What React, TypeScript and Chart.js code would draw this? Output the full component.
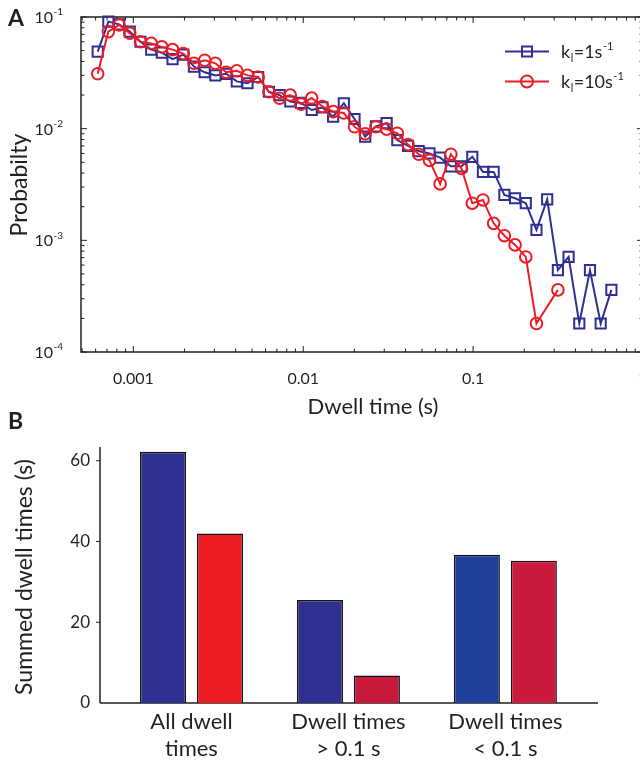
import React, { useEffect, useRef } from "react";
import { Chart, registerables } from "chart.js";
Chart.register(...registerables);

// ---------- Panel A data ----------
const dwellTimesK1 = [
  0.000617, 0.000713, 0.000824, 0.000953, 0.001102, 0.001274, 0.001472, 0.001702, 0.001968, 0.002275,
  0.00263, 0.00304, 0.003516, 0.004064, 0.004699, 0.00543, 0.00628, 0.00726, 0.00839, 0.0097,
  0.01122, 0.01297, 0.015, 0.01734, 0.02004, 0.02317, 0.02679, 0.03097, 0.0358, 0.0414,
  0.04786, 0.05534, 0.06397, 0.07396, 0.0855, 0.0989, 0.1143, 0.1321, 0.1528, 0.1766,
  0.2042, 0.236, 0.2729, 0.3155, 0.3648, 0.4217, 0.4875, 0.5636, 0.6516,
];
const probK1 = [
  0.049, 0.091, 0.086, 0.074, 0.06, 0.051, 0.048, 0.042, 0.046, 0.036,
  0.032, 0.03, 0.031, 0.0265, 0.0255, 0.029, 0.0214, 0.02, 0.0175, 0.017,
  0.0147, 0.0155, 0.0128, 0.0169, 0.0122, 0.0085, 0.0105, 0.0112, 0.0079, 0.007,
  0.0063, 0.006, 0.0055, 0.0046, 0.0046, 0.0056, 0.0041, 0.0041, 0.00255, 0.00238,
  0.00215, 0.00124, 0.00233, 0.00054, 0.00071, 0.00018, 0.00054, 0.00018, 0.00036,
];
const dwellTimesK10 = [
  0.000617, 0.000713, 0.000824, 0.000953, 0.001102, 0.001274, 0.001472, 0.001702, 0.001968, 0.002275,
  0.00263, 0.00304, 0.003516, 0.004064, 0.004699, 0.00543, 0.00628, 0.00726, 0.00839, 0.0097,
  0.01122, 0.01297, 0.015, 0.01734, 0.02004, 0.02317, 0.02679, 0.03097, 0.0358, 0.0414,
  0.04786, 0.05534, 0.06397, 0.07396, 0.0855, 0.0989, 0.1143, 0.1321, 0.1528, 0.1766,
  0.2042, 0.236, 0.3155,
];
const probK10 = [
  0.031, 0.074, 0.085, 0.0715, 0.06, 0.058, 0.054, 0.051, 0.047, 0.0385,
  0.041, 0.0385, 0.032, 0.033, 0.03, 0.029, 0.0214, 0.0187, 0.02, 0.0166,
  0.0188, 0.0158, 0.0142, 0.0138, 0.0104, 0.009, 0.0104, 0.0099, 0.0091, 0.0072,
  0.0059, 0.0052, 0.0032, 0.0059, 0.0044, 0.00215, 0.0023, 0.00142, 0.0011, 0.00091,
  0.00071, 0.00018, 0.00036,
];
const xTickValues = [0.001, 0.01, 0.1, 1];
const xTickLabels = ["0.001", "0.01", "0.1", "1"];
const yTickValues = [0.0001, 0.001, 0.01, 0.1];
const yTickExponents = ["-4", "-3", "-2", "-1"];
const legendRates = ["1", "10"];

// ---------- Panel B data ----------
const barCategories = [
  ["All dwell", "times"],
  ["Dwell times", "> 0.1 s"],
  ["Dwell times", "< 0.1 s"],
];
const barK1 = [62.2, 25.5, 36.7];
const barK10 = [42.0, 6.8, 35.2];
const barYTicks = [0, 20, 40, 60];

const FONT = "Lato, 'Open Sans', sans-serif";
const INK = "#231f20";
const BLUE = "#2e3192";
const RED = "#ed1c24";
const BLUE_FILLS = ["#2e3190", "#2e3190", "#21409a"];
const RED_FILLS = ["#ed1c24", "#c9193c", "#cc1a3e"];

function seg(ctx: CanvasRenderingContext2D, x1: number, y1: number, x2: number, y2: number) {
  ctx.beginPath();
  ctx.moveTo(x1, y1);
  ctx.lineTo(x2, y2);
  ctx.stroke();
}

const panelAPlugin = {
  id: "panelA",
  beforeDatasetsDraw(chart: any) {
    const { ctx, chartArea: a, scales } = chart;
    const xs = scales.x;
    const ys = scales.y;
    ctx.save();
    ctx.strokeStyle = INK;
    ctx.lineWidth = 1.5;
    ctx.strokeRect(a.left, a.top, a.right - a.left, a.bottom - a.top);
    ctx.lineWidth = 1;
    for (let d = -4; d <= 0; d++) {
      for (let m = 1; m <= 9; m++) {
        const v = m * Math.pow(10, d);
        if (v < xs.min * 0.999 || v > xs.max * 1.001) continue;
        const px = xs.getPixelForValue(v);
        const len = m === 1 ? 6 : 3.5;
        seg(ctx, px, a.bottom, px, a.bottom - len);
        seg(ctx, px, a.top, px, a.top + len);
      }
    }
    for (let d = -4; d <= -1; d++) {
      for (let m = 1; m <= 9; m++) {
        const v = m * Math.pow(10, d);
        if (v < ys.min * 0.999 || v > ys.max * 1.001) continue;
        const py = ys.getPixelForValue(v);
        const len = m === 1 ? 6 : 3.5;
        seg(ctx, a.left, py, a.left + len, py);
        seg(ctx, a.right, py, a.right - len, py);
      }
    }
    ctx.fillStyle = INK;
    ctx.textBaseline = "middle";
    ctx.textAlign = "center";
    ctx.font = `16px ${FONT}`;
    xTickValues.forEach((v, i) => {
      ctx.fillText(xTickLabels[i], xs.getPixelForValue(v), 379);
    });
    yTickValues.forEach((v, i) => {
      const py = ys.getPixelForValue(v);
      ctx.font = `16px ${FONT}`;
      ctx.textAlign = "right";
      ctx.fillText("10", 53, py + 1);
      ctx.font = `10px ${FONT}`;
      ctx.textAlign = "left";
      ctx.fillText(yTickExponents[i], 53.5, py - 5);
    });
    ctx.font = `22px ${FONT}`;
    ctx.textAlign = "center";
    ctx.fillText("Dwell time (s)", 373, 407);
    ctx.save();
    ctx.translate(20, 185);
    ctx.rotate(-Math.PI / 2);
    ctx.font = `23px ${FONT}`;
    ctx.fillText("Probabilty", 0, 0);
    ctx.restore();
    ctx.font = `bold 23px ${FONT}`;
    ctx.textAlign = "left";
    ctx.fillText("A", 8, 19);
    ctx.restore();
  },
  afterDraw(chart: any) {
    const { ctx } = chart;
    ctx.save();
    const entries = [
      { rate: legendRates[0], color: BLUE, style: "rect", y: 51.5 },
      { rate: legendRates[1], color: RED, style: "circle", y: 81.5 },
    ];
    entries.forEach((e) => {
      ctx.strokeStyle = e.color;
      ctx.lineWidth = 2;
      seg(ctx, 505, e.y, 549, e.y);
      ctx.beginPath();
      if (e.style === "rect") ctx.rect(522, e.y - 5, 10, 10);
      else ctx.arc(527, e.y, 6, 0, Math.PI * 2);
      ctx.stroke();
      ctx.fillStyle = INK;
      ctx.textAlign = "left";
      ctx.textBaseline = "alphabetic";
      let x = 561;
      const base = e.y + 6.5;
      ctx.font = `18px ${FONT}`;
      ctx.fillText("k", x, base);
      x += ctx.measureText("k").width;
      ctx.font = `11px ${FONT}`;
      ctx.fillText("l", x + 0.5, base + 4);
      x += ctx.measureText("l").width + 1;
      ctx.font = `18px ${FONT}`;
      const mid = "=" + e.rate + "s";
      ctx.fillText(mid, x, base);
      x += ctx.measureText(mid).width;
      ctx.font = `11px ${FONT}`;
      ctx.fillText("-1", x + 0.5, base - 8);
    });
    ctx.restore();
  },
};

const panelBPlugin = {
  id: "panelB",
  beforeDatasetsDraw(chart: any) {
    const { ctx, chartArea: a, scales } = chart;
    const xs = scales.x;
    const ys = scales.y;
    ctx.save();
    ctx.strokeStyle = INK;
    ctx.lineWidth = 1.5;
    seg(ctx, a.left, a.top, a.left, a.bottom);
    seg(ctx, a.left, a.bottom, a.right, a.bottom);
    ctx.lineWidth = 1;
    ctx.fillStyle = INK;
    ctx.textBaseline = "middle";
    barYTicks.forEach((v) => {
      const py = ys.getPixelForValue(v);
      if (v > 0) seg(ctx, a.left - 4, py, a.left, py);
      ctx.font = `17px ${FONT}`;
      ctx.textAlign = "right";
      ctx.fillText(String(v), a.left - 10, py);
    });
    ctx.font = `22px ${FONT}`;
    ctx.textAlign = "center";
    barCategories.forEach((lines, i) => {
      const px = xs.getPixelForValue(i);
      ctx.fillText(lines[0], px, a.bottom + 19);
      ctx.fillText(lines[1], px, a.bottom + 46);
    });
    ctx.save();
    ctx.translate(25, 167);
    ctx.rotate(-Math.PI / 2);
    ctx.font = `23px ${FONT}`;
    ctx.fillText("Summed dwell times (s)", 0, 0);
    ctx.restore();
    ctx.font = `bold 23px ${FONT}`;
    ctx.textAlign = "left";
    ctx.fillText("B", 8, 12);
    ctx.restore();
  },
};

export default function App() {
  const refA = useRef<HTMLCanvasElement>(null);
  const refB = useRef<HTMLCanvasElement>(null);

  useEffect(() => {
    const chartA = new Chart(refA.current as HTMLCanvasElement, {
      type: "scatter",
      data: {
        datasets: [
          {
            label: "k10",
            data: dwellTimesK10.map((x, i) => ({ x, y: probK10[i] })),
            showLine: true,
            borderColor: RED,
            borderWidth: 2,
            tension: 0,
            pointStyle: "circle",
            pointRadius: 5.8,
            pointBorderWidth: 2,
            pointBorderColor: RED,
            pointBackgroundColor: "rgba(0,0,0,0)",
            clip: false,
          },
          {
            label: "k1",
            data: dwellTimesK1.map((x, i) => ({ x, y: probK1[i] })),
            showLine: true,
            borderColor: BLUE,
            borderWidth: 2,
            tension: 0,
            pointStyle: "rect",
            pointRadius: 7.2,
            pointBorderWidth: 2,
            pointBorderColor: BLUE,
            pointBackgroundColor: "rgba(0,0,0,0)",
            clip: false,
          },
        ],
      } as any,
      options: {
        responsive: false,
        animation: false,
        events: [],
        layout: { padding: { left: 81, top: 17, right: 57, bottom: 68 } },
        plugins: { legend: { display: false }, tooltip: { enabled: false } },
        scales: {
          x: { type: "logarithmic", min: 0.000492, max: 1, display: false },
          y: { type: "logarithmic", min: 0.0001, max: 0.1, display: false },
        },
      } as any,
      plugins: [panelAPlugin],
    });

    const chartB = new Chart(refB.current as HTMLCanvasElement, {
      type: "bar",
      data: {
        datasets: [
          {
            label: "k1",
            data: barK1.map((y, i) => ({ x: i, y })),
            backgroundColor: BLUE_FILLS,
            borderColor: "#111111",
            borderWidth: 1.5,
            categoryPercentage: 0.726,
            barPercentage: 0.807,
          },
          {
            label: "k10",
            data: barK10.map((y, i) => ({ x: i, y })),
            backgroundColor: RED_FILLS,
            borderColor: "#111111",
            borderWidth: 1.5,
            categoryPercentage: 0.726,
            barPercentage: 0.807,
          },
        ],
      } as any,
      options: {
        responsive: false,
        animation: false,
        events: [],
        layout: { padding: { left: 100, top: 37, right: 42, bottom: 59 } },
        plugins: { legend: { display: false }, tooltip: { enabled: false } },
        scales: {
          x: {
            type: "linear",
            min: -0.583,
            max: 2.59,
            offset: false,
            display: false,
            afterBuildTicks: (s: any) => {
              s.ticks = barCategories.map((_, i) => ({ value: i }));
            },
          },
          y: { type: "linear", min: 0, max: 63.4, display: false },
        },
      } as any,
      plugins: [panelBPlugin],
    });

    return () => {
      chartA.destroy();
      chartB.destroy();
    };
  }, []);

  return (
    <div
      style={{
        position: "absolute",
        left: 0,
        top: 0,
        width: 640,
        height: 762,
        overflow: "hidden",
        background: "#fff",
      }}
    >
      <canvas ref={refA} width={700} height={420} style={{ position: "absolute", left: 0, top: 0 }} />
      <canvas ref={refB} width={640} height={352} style={{ position: "absolute", left: 0, top: 410 }} />
    </div>
  );
}
